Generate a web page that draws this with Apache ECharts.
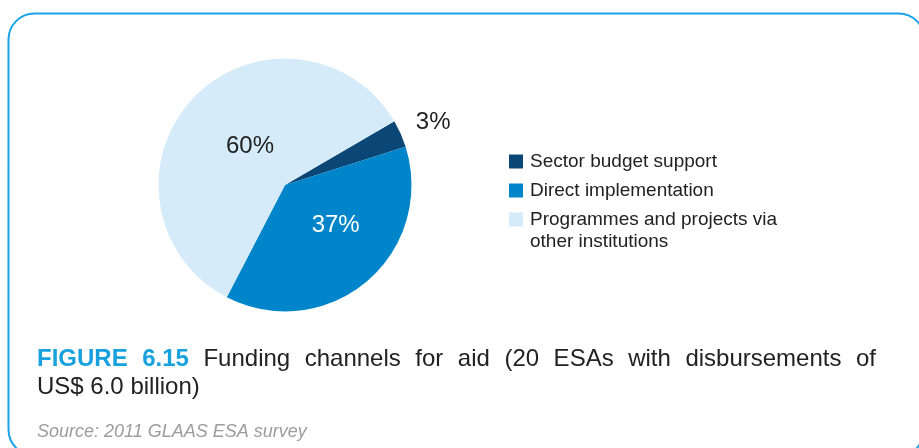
<!DOCTYPE html>
<html><head><meta charset="utf-8">
<script src="https://cdn.jsdelivr.net/npm/echarts@6/dist/echarts.min.js"></script>
<style>html,body{margin:0;padding:0;background:#fff}#c{width:919px;height:448px}</style>
</head><body><div id="c"></div>
<script>
// ---- data ----
const categories = ['Sector budget support', 'Direct implementation', 'Programmes and projects via other institutions'];
const shares = [3.5, 37.5, 59];
const shareLabels = ['3%', '37%', '60%'];
const legendLines = ['Sector budget support', 'Direct implementation', 'Programmes and projects via'];
const legendExtraLine = 'other institutions';
const titleWords = ['FIGURE', '6.15', 'Funding', 'channels', 'for', 'aid', '(20', 'ESAs', 'with', 'disbursements', 'of'];
const titleLine2 = 'US$ 6.0 billion)';
const sourceText = 'Source: 2011 GLAAS ESA survey';

// ---- style ----
const FONT = '"Liberation Sans", Arial, Helvetica, sans-serif';
const colors = ['#0a4777', '#0085ca', '#d5ebf9'];
const accent = '#17a2df';
const ink = '#222222';

// justify first title line
const ctx = document.createElement('canvas').getContext('2d');
function tw(t, f) { ctx.font = f; return ctx.measureText(t).width; }
const boldFont = 'bold 24px "Liberation Sans"';
const regFont = '24px "Liberation Sans"';
let wordsWidth = 0;
titleWords.forEach((t, i) => { wordsWidth += tw(t, i < 2 ? boldFont : regFont); });
const lineLeft = 37, lineRight = 876;
const gap = (lineRight - lineLeft - wordsWidth) / (titleWords.length - 1);
const titleRich = titleWords.map((t, i) => '{' + (i < 2 ? 'b' : 'r') + '|' + t + '}').join('{g| }');

const labelShift = [
  { dx: 1, dy: -7 },
  { dx: 8, dy: -10 },
  { dx: 13, dy: 7 }
];

const chart = echarts.init(document.getElementById('c'), null, { renderer: 'canvas' });
chart.setOption({
  animation: false,
  backgroundColor: '#ffffff',
  legend: {
    orient: 'vertical',
    left: 509,
    top: 152,
    padding: 0,
    itemWidth: 14,
    itemHeight: 14,
    itemGap: 10,
    icon: 'rect',
    selectedMode: false,
    data: categories,
    formatter: function (name) { return legendLines[categories.indexOf(name)]; },
    textStyle: { fontFamily: FONT, fontSize: 19, color: ink, lineHeight: 14, padding: [0, 0, 0, 2] }
  },
  series: [{
    type: 'pie',
    center: [285, 185],
    radius: 126.5,
    startAngle: 30.2,
    clockwise: true,
    avoidLabelOverlap: false,
    silent: true,
    itemStyle: { borderWidth: 0 },
    label: {
      show: true,
      position: 'inside',
      formatter: function (p) { return shareLabels[p.dataIndex]; },
      fontFamily: FONT,
      fontSize: 24,
      color: ink
    },
    labelLine: { show: false, length: 10, length2: 0 },
    labelLayout: function (p) { return labelShift[p.dataIndex]; },
    data: categories.map(function (n, i) {
      const d = { name: n, value: shares[i], itemStyle: { color: colors[i] } };
      if (i === 0) d.label = { position: 'outside', distanceToLabelLine: 5 };
      if (i === 1) d.label = { color: '#ffffff' };
      return d;
    })
  }],
  graphic: [
    {
      type: 'rect', silent: true,
      shape: { x: 8.5, y: 13.5, width: 916, height: 442, r: 26 },
      style: { fill: 'none', stroke: '#1aa3e6', lineWidth: 2 }
    },
    {
      type: 'text', silent: true, left: 530, top: 232,
      style: { text: legendExtraLine, font: '19px ' + FONT, fill: ink }
    },
    {
      type: 'text', silent: true, x: lineLeft, y: 359.5,
      style: {
        text: titleRich, verticalAlign: 'middle', align: 'left',
        rich: {
          b: { fontFamily: FONT, fontSize: 24, fontWeight: 'bold', fill: accent, color: accent },
          r: { fontFamily: FONT, fontSize: 24, fill: ink, color: ink },
          g: { fontFamily: FONT, fontSize: 24, width: gap }
        }
      }
    },
    {
      type: 'text', silent: true, x: lineLeft, y: 387,
      style: { text: titleLine2, font: '24px ' + FONT, fill: ink, verticalAlign: 'middle' }
    },
    {
      type: 'text', silent: true, x: lineLeft, y: 431.5,
      style: { text: sourceText, font: 'italic 18px ' + FONT, fill: '#9c9c9c', verticalAlign: 'middle' }
    }
  ]
});
</script>
</body></html>
